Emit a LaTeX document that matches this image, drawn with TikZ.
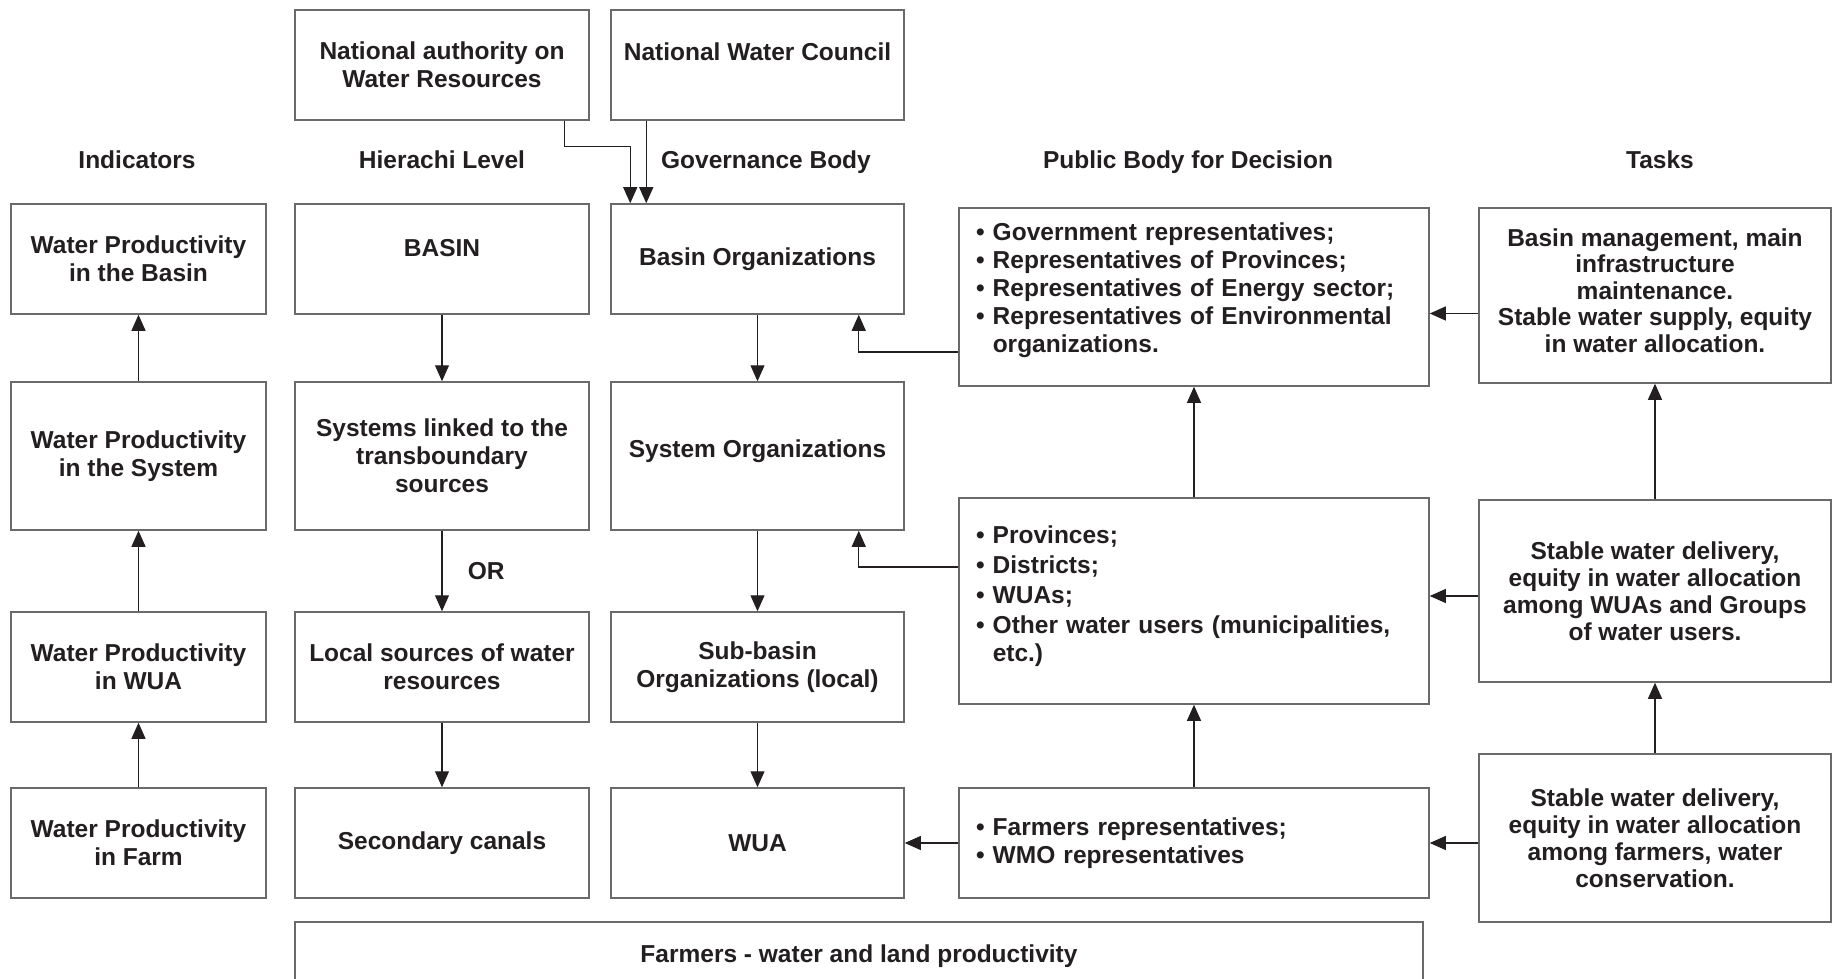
\documentclass[tikz,border=0pt]{standalone}
\usepackage{fontspec}
\setmainfont{Liberation Sans}
\usetikzlibrary{positioning}
\usetikzlibrary{arrows.meta}

\definecolor{boxline}{HTML}{6A6A6A}
\definecolor{ink}{HTML}{231F20}

\begin{document}
\begin{tikzpicture}[x=1pt,y=-1pt,
    every node/.style={font=\bfseries\fontsize{24.5}{28}\selectfont, text=ink},
    box/.style={draw=boxline, line width=1.5pt, inner sep=4pt, align=center},
    listbox/.style={draw=boxline, line width=1.5pt, inner xsep=16pt, align=left,
        text width=436pt, minimum width=470},
    arr/.style={draw=ink, line width=1.1pt, -{Triangle[length=16pt,width=14pt]}}]

        \useasboundingbox (0,0) rectangle (1832,979);
        \clip (0,0) rectangle (1832,979);

        % top level
        \node[box, minimum width=294, minimum height=110] (natauth) at (442,65) {National authority on\\Water Resources};
        \node[box, minimum width=293, minimum height=110, text depth=27pt] (natcouncil) at (757.5,65) {National Water Council};

        % column headers
        \node[anchor=base] (hdind) at (137,168) {Indicators};
        \node[anchor=base] (hdlevel) at (442,168) {Hierachi Level};
        \node[anchor=base] (hdgov) at (766,168) {Governance Body};
        \node[anchor=base] (hdpub) at (1188,168) {Public Body for Decision};
        \node[anchor=base] (hdtask) at (1660,168) {Tasks};

        % indicators
        \node[box, minimum width=255, minimum height=110] (wpbasin) at (138.5,259) {Water Productivity\\in the Basin};
        \node[box, minimum width=255, minimum height=148] (wpsystem) at (138.5,456) {Water Productivity\\in the System};
        \node[box, minimum width=255, minimum height=110] (wpwua) at (138.5,667) {Water Productivity\\in WUA};
        \node[box, minimum width=255, minimum height=110] (wpfarm) at (138.5,843) {Water Productivity\\in Farm};

        % hierarchy level
        \node[box, minimum width=294, minimum height=110, text depth=23pt] (basin) at (442,259) {BASIN};
        \node[box, minimum width=294, minimum height=148] (systems) at (442,456) {Systems linked to the\\transboundary\\sources};
        \node[box, minimum width=294, minimum height=110] (localsrc) at (442,667) {Local sources of water\\resources};
        \node[box, minimum width=294, minimum height=110] (seccanal) at (442,843) {Secondary canals};

        % governance body
        \node[box, minimum width=293, minimum height=110] (basinorg) at (757.5,259) {Basin Organizations};
        \node[box, minimum width=293, minimum height=148, text depth=15pt] (sysorg) at (757.5,456) {System Organizations};
        \node[box, minimum width=293, minimum height=110] (subbasin) at (757.5,667) {Sub-basin\\Organizations (local)};
        \node[box, minimum width=293, minimum height=110] (wua) at (757.5,843) {WUA};

        % public body for decision
        \node[listbox, minimum height=178] (pubbasin) at (1194,297) {%
            \textbullet\ Government representatives;\\
            \textbullet\ Representatives of Provinces;\\
            \textbullet\ Representatives of Energy sector;\\
            \textbullet\ Representatives of Environmental\\
            \phantom{\textbullet\ }organizations.\rule[-19pt]{0pt}{19pt}};
        \node[listbox, minimum height=206] (pubsystem) at (1194,601) {%
            \textbullet\ Provinces;\\[2pt]
            \textbullet\ Districts;\\[2pt]
            \textbullet\ WUAs;\\[2pt]
            \textbullet\ Other water users (municipalities,\\
            \phantom{\textbullet\ }etc.)\rule[-15pt]{0pt}{15pt}};
        \node[listbox, minimum height=110] (pubwua) at (1194,843) {%
            \textbullet\ Farmers representatives;\\
            \textbullet\ WMO representatives};

        % tasks
        \node[box, minimum width=352, minimum height=175, font=\bfseries\fontsize{24.5}{26.5}\selectfont] (taskbasin) at (1655,295.5) {Basin management, main\\infrastructure\\maintenance.\\Stable water supply, equity\\in water allocation.\rule[-10pt]{0pt}{10pt}};
        \node[box, minimum width=352, minimum height=182, font=\bfseries\fontsize{24.5}{27}\selectfont] (tasksystem) at (1655,591) {Stable water delivery,\\equity in water allocation\\among WUAs and Groups\\of water users.};
        \node[box, minimum width=352, minimum height=168, font=\bfseries\fontsize{24.5}{27}\selectfont] (taskwua) at (1655,838) {Stable water delivery,\\equity in water allocation\\among farmers, water\\conservation.};

        % farmers
        \node[box, minimum width=1128, minimum height=68] (farmers) at (859,956) {Farmers - water and land productivity};

        % connectors
        \draw[arr] ([xshift=-25pt]natauth.south east) -- ++(0,26) -| ([xshift=20pt]basinorg.north west);
        \draw[arr] ([xshift=36pt]natcouncil.south west) -- ([xshift=36pt]basinorg.north west);

        \draw[arr] (wpsystem) -- (wpbasin);
        \draw[arr] (wpwua) -- (wpsystem);
        \draw[arr] (wpfarm) -- (wpwua);

        \draw[arr] (basin) -- (systems);
        \draw[arr] (systems) -- node[right=22pt, pos=0.5] (orlabel) {OR} (localsrc);
        \draw[arr] (localsrc) -- (seccanal);

        \draw[arr] (basinorg) -- (sysorg);
        \draw[arr] (sysorg) -- (subbasin);
        \draw[arr] (subbasin) -- (wua);

        \draw[arr] ([yshift=-55pt]pubbasin.west) -| ([xshift=-46pt]basinorg.south east);
        \draw[arr] ([yshift=34pt]pubsystem.west) -| ([xshift=-46pt]sysorg.south east);
        \draw[arr] (pubwua) -- (wua);
        \draw[arr] (pubwua) -- (pubsystem);
        \draw[arr] (pubsystem) -- (pubbasin);

        \coordinate (tbout) at ([yshift=-18pt]taskbasin.west);
        \coordinate (tsout) at ([yshift=-5pt]tasksystem.west);
        \draw[arr] (tbout) -- (tbout -| pubbasin.east);
        \draw[arr] (tsout) -- (tsout -| pubsystem.east);
        \draw[arr] (taskwua.west |- pubwua) -- (pubwua);
        \draw[arr] (taskwua) -- (tasksystem);
        \draw[arr] (tasksystem) -- (taskbasin);
\end{tikzpicture}
\end{document}
